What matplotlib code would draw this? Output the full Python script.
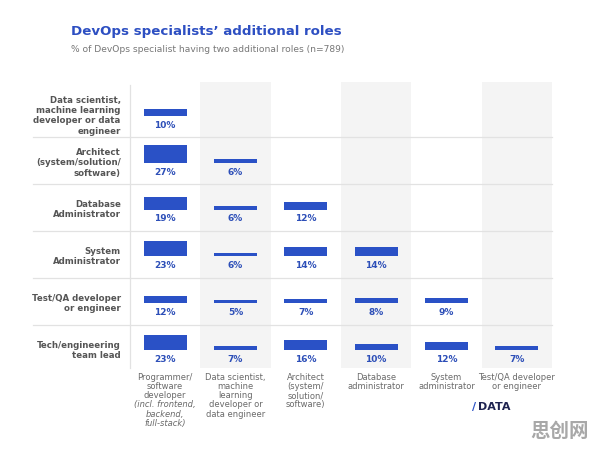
import matplotlib
matplotlib.use("Agg")
import matplotlib.pyplot as plt
import numpy as np

# ---------------- data ----------------
row_labels = [
    "Data scientist,\nmachine learning\ndeveloper or data\nengineer",
    "Architect\n(system/solution/\nsoftware)",
    "Database\nAdministrator",
    "System\nAdministrator",
    "Test/QA developer\nor engineer",
    "Tech/engineering\nteam lead",
]
col_labels = [
    ["Programmer/", "software", "developer", "(incl. frontend,", "backend,", "full-stack)"],
    ["Data scientist,", "machine", "learning", "developer or", "data engineer"],
    ["Architect", "(system/", "solution/", "software)"],
    ["Database", "administrator"],
    ["System", "administrator"],
    ["Test/QA developer", "or engineer"],
]
italic_lines = {(0, 3), (0, 4), (0, 5)}

# values per column (first role), aligned to rows (second role); None = no cell
programmer = [10, 27, 19, 23, 12, 23]
data_scientist = [None, 6, 6, 6, 5, 7]
architect = [None, None, 12, 14, 7, 16]
db_admin = [None, None, None, 14, 8, 10]
sys_admin = [None, None, None, None, 9, 12]
test_qa = [None, None, None, None, None, 7]
columns = [programmer, data_scientist, architect, db_admin, sys_admin, test_qa]

title = "DevOps specialists’ additional roles"
subtitle = "% of DevOps specialist having two additional roles (n=789)"

# ---------------- style ----------------
BLUE = "#2a51c6"
LABEL_BLUE = "#2d4fb8"
GRAY = "#555555"
SHADE = "#f4f4f4"
LINE = "#e2e2e2"
FONT = "DejaVu Sans"

W, H = 596, 449
fig = plt.figure(figsize=(W / 100, H / 100), dpi=100)

left_px, right_px, top_px, bot_px = 130, 552, 85, 368
ax = fig.add_axes([left_px / W, 1 - bot_px / H, (right_px - left_px) / W, (bot_px - top_px) / H])
ax.set_xlim(-0.5, 5.5)
ax.set_ylim(5.417, -0.615)
ax.axis("off")

ncol = len(columns)
nrow = len(row_labels)

for c in range(ncol):
    if c % 2 == 1:
        ax.axvspan(c - 0.5, c + 0.5, ymin=0, ymax=1.01, color=SHADE, zorder=0, lw=0, clip_on=False)

for r in range(nrow - 1):
    ax.plot([-1.88, 5.5], [r + 0.5, r + 0.5], color=LINE, lw=0.9, zorder=1, clip_on=False)
ax.plot([-0.5, -0.5], [-0.615, 5.417], color=LINE, lw=0.9, zorder=1, clip_on=False)

scale = 0.0139  # row units per percentage point
bw = 0.61
base_off = 0.04
for c, vals in enumerate(columns):
    for r, v in enumerate(vals):
        if v is None:
            continue
        base = r + base_off
        ax.bar(c, -v * scale, bottom=base, width=bw, color=BLUE, zorder=3)
        ax.text(c, base + 0.2, f"{v}%", ha="center", va="center", fontsize=6.5,
                fontweight="bold", color=LABEL_BLUE, family=FONT, zorder=4)

for r, lab in enumerate(row_labels):
    ax.text(-0.632, r + base_off, lab, ha="right", va="center", fontsize=6.2,
            color=GRAY, fontweight="bold", family=FONT, linespacing=1.2)

line_h = 0.196
for c, lines in enumerate(col_labels):
    for i, s in enumerate(lines):
        ax.text(c, 5.615 + i * line_h, s, ha="center", va="center", fontsize=6.0,
                color="#6a6a6a", family=FONT,
                style="italic" if (c, i) in italic_lines else "normal", clip_on=False)

fig.text(71 / W, 1 - 31 / H, title, ha="left", va="center", fontsize=9.6,
         fontweight="bold", color="#2d4fc2", family=FONT)
fig.text(71 / W, 1 - 49.3 / H, subtitle, ha="left", va="center", fontsize=6.6,
         color="#777777", family=FONT)

fig.text(472 / W, 1 - 407 / H, "/", ha="left", va="center", fontsize=8,
         fontweight="bold", color=BLUE, family=FONT)
fig.text(478 / W, 1 - 407 / H, "DATA", ha="left", va="center", fontsize=8,
         fontweight="bold", color="#1e2350", family=FONT)
fig.text(589 / W, 1 - 431.5 / H, "思创网", ha="right", va="center", fontsize=14,
         fontweight="bold", color="#a8a8a8", family=["Noto Sans CJK SC", "DejaVu Sans"])

fig.savefig("out.png", dpi=100)
